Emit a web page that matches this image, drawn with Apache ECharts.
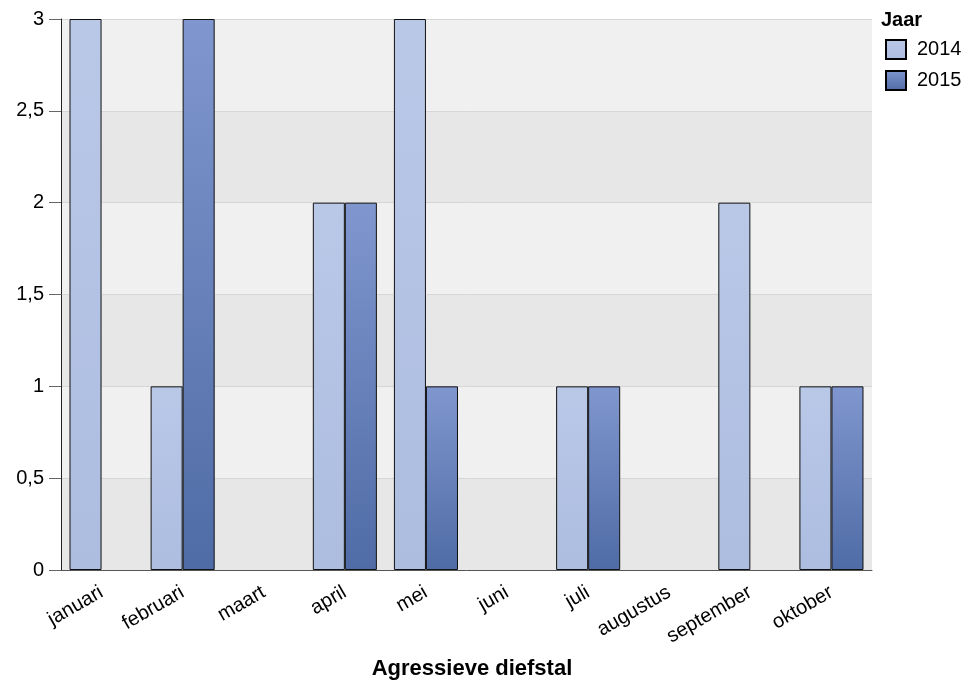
<!DOCTYPE html>
<html><head><meta charset="utf-8">
<script src="https://cdn.jsdelivr.net/npm/echarts@6/dist/echarts.min.js"></script>
<style>html,body{margin:0;padding:0;background:#fff}#c{width:968px;height:681px}</style>
</head><body><div id="c"></div>
<script>
const categories = ['januari','februari','maart','april','mei','juni','juli','augustus','september','oktober'];
const years = ['2014','2015'];
const values2014 = [3,1,0,2,3,0,1,0,2,1];
const values2015 = [0,3,0,2,1,0,1,0,0,1];
const yTicks = [0,0.5,1,1.5,2,2.5,3];
const xAxisTitle = 'Agressieve diefstal';
const legendTitle = 'Jaar';

const font = 'Liberation Sans, Arial, sans-serif';
const grad = (top, bottom) => new echarts.graphic.LinearGradient(0,0,0,1,[{offset:0,color:top},{offset:1,color:bottom}]);
const noZero = arr => arr.map(v => v === 0 ? '-' : v);
const chart = echarts.init(document.getElementById('c'));
chart.setOption({
  animation:false,
  textStyle:{fontFamily:font},
  grid:{left:61,right:96,top:19,bottom:111,containLabel:false,outerBoundsMode:'none'},
  title:[
    {text:legendTitle,left:881,top:10,padding:0,textStyle:{fontFamily:font,fontSize:20,fontWeight:'bold',color:'#000'}},
    {text:xAxisTitle,left:472,textAlign:'center',top:658,padding:0,textStyle:{fontFamily:font,fontSize:22,fontWeight:'bold',color:'#000'}}
  ],
  legend:{orient:'vertical',left:885,top:39,padding:0,itemWidth:20,itemHeight:19,itemGap:10,icon:'rect',
    itemStyle:{borderColor:'#000',borderWidth:2},
    textStyle:{fontFamily:font,fontSize:20,color:'#000',padding:[0,0,0,6]},data:years},
  xAxis:{type:'category',data:categories,
    axisLine:{lineStyle:{color:'#555'}},
    axisTick:{alignWithLabel:true,length:11,lineStyle:{color:'#333'}},
    axisLabel:{rotate:30,fontSize:20,color:'#000',fontFamily:font,margin:21,interval:0},
    splitLine:{show:false}},
  yAxis:{type:'value',min:0,max:3,interval:0.5,
    axisLine:{show:true,lineStyle:{color:'#222'}},
    axisTick:{show:true,length:12,lineStyle:{color:'#666'}},
    axisLabel:{fontSize:20,color:'#000',fontFamily:font,margin:17,
      formatter:v=>String(v).replace('.',',')},
    splitLine:{show:true,lineStyle:{color:'#d6d6d6'}},
    splitArea:{show:true,areaStyle:{color:['#e7e7e7','#f0f0f0']}}},
  series:[
    {name:years[0],type:'bar',data:noZero(values2014),barGap:0,barCategoryGap:'21%',
      itemStyle:{color:grad('#bac8e8','#acbde0'),borderColor:'#111',borderWidth:1}},
    {name:years[1],type:'bar',data:noZero(values2015),barGap:0,barCategoryGap:'21%',
      itemStyle:{color:grad('#8096ce','#4f6ca6'),borderColor:'#111',borderWidth:1}}
  ]
});
</script></body></html>
